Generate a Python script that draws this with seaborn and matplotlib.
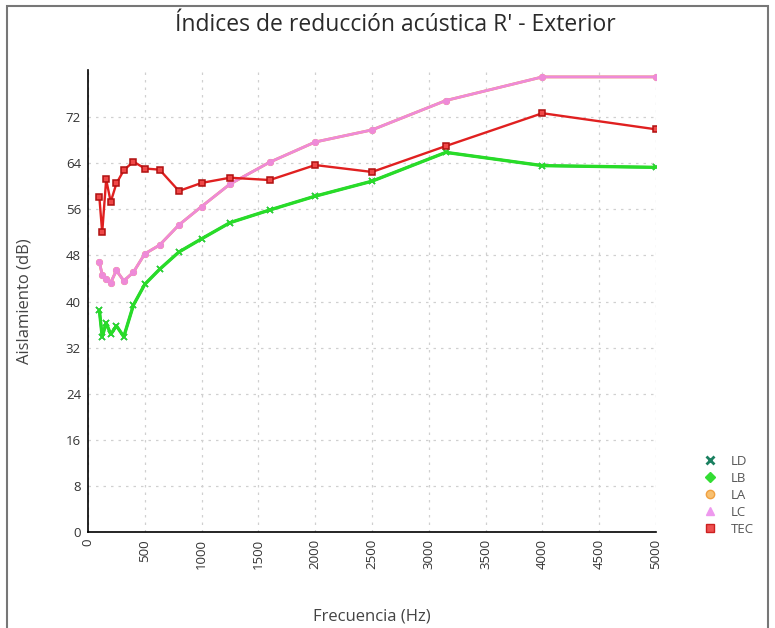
import matplotlib
matplotlib.use("Agg")
import matplotlib.pyplot as plt
import seaborn as sns
import pandas as pd
from matplotlib.lines import Line2D
from matplotlib.patches import Rectangle

freqs = [100, 125, 160, 200, 250, 315, 400, 500, 630, 800, 1000, 1250,
         1600, 2000, 2500, 3150, 4000, 5000]
ld = [38.5, 33.9, 36.3, 34.3, 35.8, 33.9, 39.4, 43.0, 45.6, 48.6, 50.9, 53.7,
      55.9, 58.3, 60.9, 65.9, 63.6, 63.3]
lb = list(ld)
lc = [46.8, 44.7, 43.9, 43.3, 45.4, 43.6, 45.1, 48.3, 49.8, 53.3, 56.5, 60.4,
      64.2, 67.7, 69.8, 74.9, 79.0, 79.0]
la = list(lc)
tec = [58.1, 52.0, 61.2, 57.3, 60.5, 62.8, 64.3, 63.1, 62.9, 59.2, 60.6, 61.5,
       61.1, 63.7, 62.5, 67.0, 72.7, 69.9]
yticks = [0, 8, 16, 24, 32, 40, 48, 56, 64, 72]
xticks = [0, 500, 1000, 1500, 2000, 2500, 3000, 3500, 4000, 4500, 5000]

sns.set_style("white")
plt.rcParams['font.family'] = ['Open Sans', 'DejaVu Sans']

fig = plt.figure(figsize=(7.75, 6.28), dpi=100)
ax = fig.add_axes([88/775, 1-532/628, (656-88)/775, (532-70)/628])

series = [
    ("LA", la, "#f0a040", "o", 2.0, 4),
    ("LC", lc, "#ee8ad8", "o", 2.0, 4),
    ("LD", ld, "#1a8060", "x", 1.8, 4),
    ("LB", lb, "#28dc28", "x", 2.4, 4),
    ("TEC", tec, "#e02020", "s", 1.7, 4),
]
for name, vals, col, mk, lw, ms in series:
    df = pd.DataFrame({"f": freqs, "v": vals})
    sns.lineplot(data=df, x="f", y="v", ax=ax, color=col, linewidth=lw,
                 marker=mk, markersize=ms, markeredgewidth=1.1,
                 markeredgecolor=("#b01010" if name == "TEC" else col),
                 markerfacecolor=("#f04848" if name == "TEC" else col),
                 legend=False)

ax.set_xlim(0, 5000)
ax.set_ylim(0, 80.2)
ax.set_xticks(xticks)
ax.set_xticklabels([str(t) for t in xticks], rotation=90, fontsize=9.5, color="#333333")
ax.set_yticks(yticks)
ax.set_yticklabels([str(t) for t in yticks], fontsize=9.5, color="#333333")
ax.grid(True, linestyle=(0, (2, 4)), color="#d0d0d0", linewidth=0.9)
for s in ["top", "right"]:
    ax.spines[s].set_visible(False)
for s in ["left", "bottom"]:
    ax.spines[s].set_color("black")
    ax.spines[s].set_linewidth(1.2)
ax.tick_params(axis="both", length=0, pad=5)
ax.set_xlabel("Frecuencia (Hz)", fontsize=12, color="#444444", labelpad=28)
ax.set_ylabel("Aislamiento (dB)", fontsize=12, color="#444444", labelpad=24)

fig.text(0.51, 1-25/628, "Índices de reducción acústica R' - Exterior",
         ha="center", va="center", fontsize=16.5, color="#2a2a2a")

handles = [
    Line2D([], [], linestyle="none", marker="x", color="#1a8060", markersize=6, markeredgewidth=2),
    Line2D([], [], linestyle="none", marker="D", color="#33dd33", markersize=5),
    Line2D([], [], linestyle="none", marker="o", color="#f0a040", markerfacecolor="#f8c070", markersize=6),
    Line2D([], [], linestyle="none", marker="^", color="#ee99ee", markersize=6),
    Line2D([], [], linestyle="none", marker="s", color="#cc2020", markerfacecolor="#ee5050", markersize=6),
]
fig.legend(handles, ["LD", "LB", "LA", "LC", "TEC"], loc="upper left",
           bbox_to_anchor=(685/775, 1-443/628), frameon=False, fontsize=9.5,
           handletextpad=0.6, labelspacing=0.3, labelcolor="#555555")

fig.patches.append(Rectangle((7/775, -0.01), (768-7)/775, 1-6/628+0.01,
                             transform=fig.transFigure, fill=False,
                             edgecolor="#777777", linewidth=1.5))
fig.savefig("out.png", dpi=100)
